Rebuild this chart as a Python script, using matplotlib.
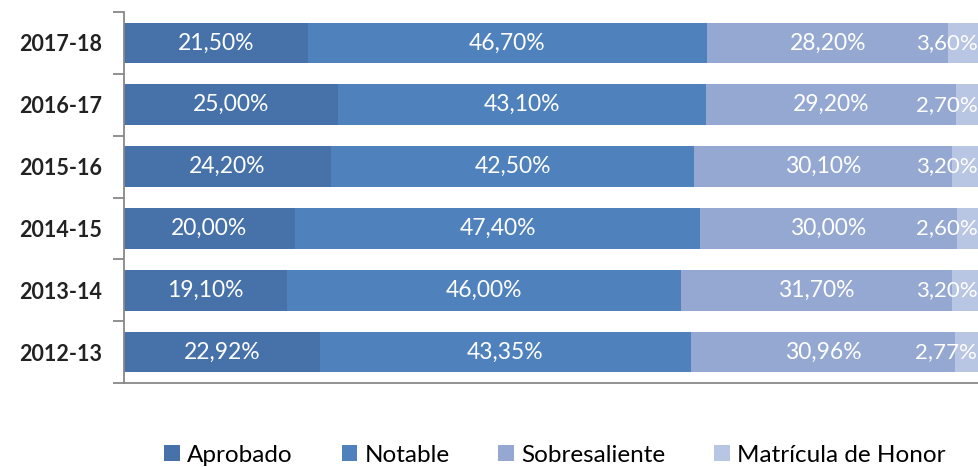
import numpy as np
import matplotlib
matplotlib.use("Agg")
import matplotlib.pyplot as plt

plt.rcParams['font.family'] = ['Lato', 'DejaVu Sans']

cursos = ["2017-18", "2016-17", "2015-16", "2014-15", "2013-14", "2012-13"]
aprobado = [21.50, 25.00, 24.20, 20.00, 19.10, 22.92]
notable = [46.70, 43.10, 42.50, 47.40, 46.00, 43.35]
sobresaliente = [28.20, 29.20, 30.10, 30.00, 31.70, 30.96]
matricula = [3.60, 2.70, 3.20, 2.60, 3.20, 2.77]

series = ["Aprobado", "Notable", "Sobresaliente", "Matrícula de Honor"]
colores = ["#4672A9", "#4F81BD", "#94A8D1", "#B9C6E3"]

fig = plt.figure(figsize=(9.79, 4.67), dpi=100)
ax = fig.add_axes([124/979, 1 - 383/467, 1 - 124/979, (383 - 12)/467])

y = np.arange(len(cursos))
left = np.zeros(len(cursos))
datos = [aprobado, notable, sobresaliente, matricula]
for i, (nombre, vals, col) in enumerate(zip(series, datos, colores)):
    vals = np.array(vals)
    ax.barh(y, vals, left=left, height=0.66, color=col, label=nombre)
    for yi, l, v in zip(y, left, vals):
        txt = f"{v:.2f}%".replace(".", ",")
        if i == len(series) - 1:
            # last segment runs to the edge: keep the label inside the figure
            ax.text(99.8, yi, txt, ha="right", va="center", color="white", fontsize=16)
        else:
            ax.text(l + v / 2, yi, txt, ha="center", va="center", color="white", fontsize=16.5)
    left += vals

ax.set_xlim(0, 100)
ax.set_ylim(len(cursos) - 0.5, -0.5)
ax.set_yticks(y)
ax.set_yticklabels(cursos, fontsize=15.5, color="#222222", fontweight="bold")
ax.set_yticks(np.arange(-0.5, len(cursos), 1), minor=True)
ax.tick_params(axis="y", which="major", length=0, pad=16)
ax.tick_params(axis="y", which="minor", length=8, width=1.3, color="#888888")
ax.set_xticks([])
for s in ["top", "right"]:
    ax.spines[s].set_visible(False)
for s in ["left", "bottom"]:
    ax.spines[s].set_color("#888888")
    ax.spines[s].set_linewidth(1.3)

fig.legend(loc="center", ncol=4, bbox_to_anchor=(0.567, 12/467), frameon=False,
           fontsize=17.5, handlelength=0.65, handleheight=0.65, handletextpad=0.3,
           columnspacing=2.0, borderpad=0)

fig.savefig("out.png", dpi=100)
